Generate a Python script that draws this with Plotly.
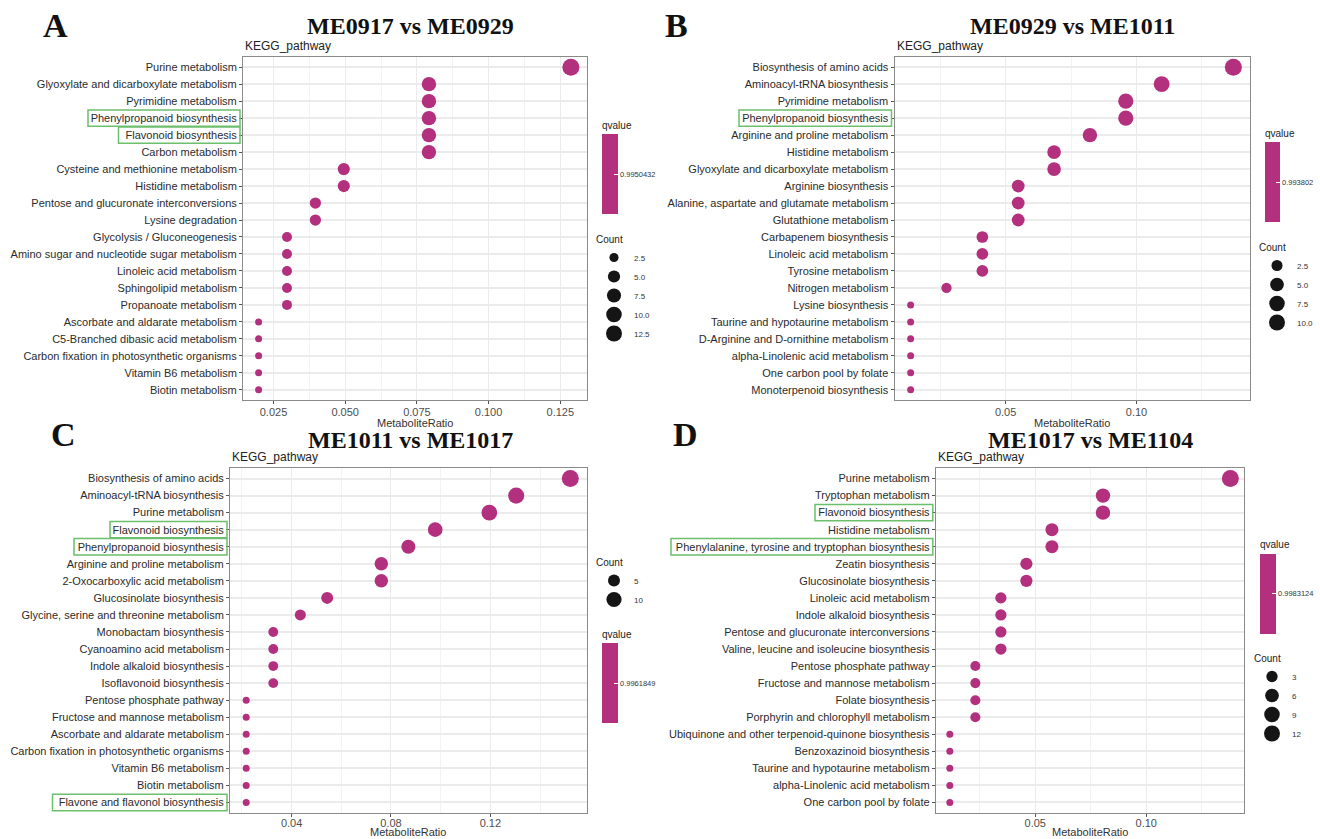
import math
import plotly.graph_objects as go

# ---------------- data ----------------
a_title = "ME0917 vs ME0929"
a_pathways = ["Purine metabolism", "Glyoxylate and dicarboxylate metabolism", "Pyrimidine metabolism",
              "Phenylpropanoid biosynthesis", "Flavonoid biosynthesis", "Carbon metabolism",
              "Cysteine and methionine metabolism", "Histidine metabolism",
              "Pentose and glucuronate interconversions", "Lysine degradation",
              "Glycolysis / Gluconeogenesis", "Amino sugar and nucleotide sugar metabolism",
              "Linoleic acid metabolism", "Sphingolipid metabolism", "Propanoate metabolism",
              "Ascorbate and aldarate metabolism", "C5-Branched dibasic acid metabolism",
              "Carbon fixation in photosynthetic organisms", "Vitamin B6 metabolism", "Biotin metabolism"]
a_ratio = [0.1287, 0.0792, 0.0792, 0.0792, 0.0792, 0.0792, 0.0495, 0.0495, 0.0396, 0.0396,
           0.0297, 0.0297, 0.0297, 0.0297, 0.0297, 0.0198, 0.0198, 0.0198, 0.0198, 0.0198]
a_count = [13, 8, 8, 8, 8, 8, 5, 5, 4, 4, 3, 3, 3, 3, 3, 2, 2, 2, 2, 2]
a_qvalue = 0.9950432
a_count_breaks = [2.5, 5.0, 7.5, 10.0, 12.5]
a_count_labels = ["2.5", "5.0", "7.5", "10.0", "12.5"]
a_highlight = ["Phenylpropanoid biosynthesis", "Flavonoid biosynthesis"]

b_title = "ME0929 vs ME1011"
b_pathways = ["Biosynthesis of amino acids", "Aminoacyl-tRNA biosynthesis", "Pyrimidine metabolism",
              "Phenylpropanoid biosynthesis", "Arginine and proline metabolism", "Histidine metabolism",
              "Glyoxylate and dicarboxylate metabolism", "Arginine biosynthesis",
              "Alanine, aspartate and glutamate metabolism", "Glutathione metabolism",
              "Carbapenem biosynthesis", "Linoleic acid metabolism", "Tyrosine metabolism",
              "Nitrogen metabolism", "Lysine biosynthesis", "Taurine and hypotaurine metabolism",
              "D-Arginine and D-ornithine metabolism", "alpha-Linolenic acid metabolism",
              "One carbon pool by folate", "Monoterpenoid biosynthesis"]
b_ratio = [0.1370, 0.1096, 0.0959, 0.0959, 0.0822, 0.0685, 0.0685, 0.0548, 0.0548, 0.0548,
           0.0411, 0.0411, 0.0411, 0.0274, 0.0137, 0.0137, 0.0137, 0.0137, 0.0137, 0.0137]
b_count = [10, 8, 7, 7, 6, 5, 5, 4, 4, 4, 3, 3, 3, 2, 1, 1, 1, 1, 1, 1]
b_qvalue = 0.993802
b_count_breaks = [2.5, 5.0, 7.5, 10.0]
b_count_labels = ["2.5", "5.0", "7.5", "10.0"]
b_highlight = ["Phenylpropanoid biosynthesis"]

c_title = "ME1011 vs ME1017"
c_pathways = ["Biosynthesis of amino acids", "Aminoacyl-tRNA biosynthesis", "Purine metabolism",
              "Flavonoid biosynthesis", "Phenylpropanoid biosynthesis", "Arginine and proline metabolism",
              "2-Oxocarboxylic acid metabolism", "Glucosinolate biosynthesis",
              "Glycine, serine and threonine metabolism", "Monobactam biosynthesis",
              "Cyanoamino acid metabolism", "Indole alkaloid biosynthesis", "Isoflavonoid biosynthesis",
              "Pentose phosphate pathway", "Fructose and mannose metabolism",
              "Ascorbate and aldarate metabolism", "Carbon fixation in photosynthetic organisms",
              "Vitamin B6 metabolism", "Biotin metabolism", "Flavone and flavonol biosynthesis"]
c_ratio = [0.1522, 0.1304, 0.1196, 0.0978, 0.0870, 0.0761, 0.0761, 0.0543, 0.0435, 0.0326,
           0.0326, 0.0326, 0.0326, 0.0217, 0.0217, 0.0217, 0.0217, 0.0217, 0.0217, 0.0217]
c_count = [14, 12, 11, 9, 8, 7, 7, 5, 4, 3, 3, 3, 3, 2, 2, 2, 2, 2, 2, 2]
c_qvalue = 0.9961849
c_count_breaks = [5, 10]
c_count_labels = ["5", "10"]
c_highlight = ["Flavonoid biosynthesis", "Phenylpropanoid biosynthesis", "Flavone and flavonol biosynthesis"]

d_title = "ME1017 vs ME1104"
d_pathways = ["Purine metabolism", "Tryptophan metabolism", "Flavonoid biosynthesis", "Histidine metabolism",
              "Phenylalanine, tyrosine and tryptophan biosynthesis", "Zeatin biosynthesis",
              "Glucosinolate biosynthesis", "Linoleic acid metabolism", "Indole alkaloid biosynthesis",
              "Pentose and glucuronate interconversions", "Valine, leucine and isoleucine biosynthesis",
              "Pentose phosphate pathway", "Fructose and mannose metabolism", "Folate biosynthesis",
              "Porphyrin and chlorophyll metabolism", "Ubiquinone and other terpenoid-quinone biosynthesis",
              "Benzoxazinoid biosynthesis", "Taurine and hypotaurine metabolism",
              "alpha-Linolenic acid metabolism", "One carbon pool by folate"]
d_ratio = [0.1379, 0.0805, 0.0805, 0.0575, 0.0575, 0.0460, 0.0460, 0.0345, 0.0345, 0.0345,
           0.0345, 0.0230, 0.0230, 0.0230, 0.0230, 0.0115, 0.0115, 0.0115, 0.0115, 0.0115]
d_count = [12, 7, 7, 5, 5, 4, 4, 3, 3, 3, 3, 2, 2, 2, 2, 1, 1, 1, 1, 1]
d_qvalue = 0.9983124
d_count_breaks = [3, 6, 9, 12]
d_count_labels = ["3", "6", "9", "12"]
d_highlight = ["Flavonoid biosynthesis", "Phenylalanine, tyrosine and tryptophan biosynthesis"]

# ---------------- style / layout ----------------
W, H = 1320, 839
DOT = "#B3307F"
GREEN = "#6CBF6C"
SANS = "Liberation Sans, Arial, sans-serif"
SERIF = "Liberation Serif, Times New Roman, serif"


def fx(px):
    return px / W


def fy(py):
    return 1 - py / H


def dot_size(c, cmin, cmax):
    return 7 + 10 * math.sqrt(max(c - cmin, 0) / (cmax - cmin))


panels = [
    dict(key="A", title=a_title, paths=a_pathways, ratio=a_ratio, count=a_count, q=a_qvalue,
         breaks=a_count_breaks, blabels=a_count_labels, hl=a_highlight,
         xdom=(243, 586.5), ydom=(57, 400), dtick=0.025, fmt=".3f", tls=-1,
         cb=(602, 166, 16), leg=(594, 230), letter=(55, 26), tcent=(410, 26), xt=(423, "middle"),
         hlx={"Phenylpropanoid biosynthesis": 88, "Flavonoid biosynthesis": 118.5}),
    dict(key="B", title=b_title, paths=b_pathways, ratio=b_ratio, count=b_count, q=b_qvalue,
         breaks=b_count_breaks, blabels=b_count_labels, hl=b_highlight,
         xdom=(894.5, 1249.5), ydom=(57, 400), dtick=0.05, fmt=".2f", tls=-1,
         cb=(1265, 174.5, 15), leg=(1257, 238), letter=(676, 26), tcent=(1072, 26), xt=(423, "middle"),
         hlx={"Phenylpropanoid biosynthesis": 739}),
    dict(key="C", title=c_title, paths=c_pathways, ratio=c_ratio, count=c_count, q=c_qvalue,
         breaks=c_count_breaks, blabels=c_count_labels, hl=c_highlight,
         xdom=(230, 586.5), ydom=(468.3, 812.7), dtick=0.04, fmt=".2f", tls=-3,
         cb=(602, 675, 16), leg=(594, 553), letter=(63, 434), tcent=(410, 440), xt=(839, "bottom"),
         hlx={"Flavonoid biosynthesis": 110, "Phenylpropanoid biosynthesis": 74,
              "Flavone and flavonol biosynthesis": 52.5}),
    dict(key="D", title=d_title, paths=d_pathways, ratio=d_ratio, count=d_count, q=d_qvalue,
         breaks=d_count_breaks, blabels=d_count_labels, hl=d_highlight,
         xdom=(935.8, 1244.4), ydom=(468.3, 812.7), dtick=0.05, fmt=".2f", tls=-3,
         cb=(1260, 585.7, 16), leg=(1252, 649), letter=(685, 434), tcent=(1090, 440), xt=(839, "bottom"),
         hlx={"Flavonoid biosynthesis": 815, "Phenylalanine, tyrosine and tryptophan biosynthesis": 671}),
]

fig = go.Figure()
layout = dict(width=W, height=H, margin=dict(l=0, r=0, t=0, b=0, pad=0, autoexpand=False),
              paper_bgcolor="white", plot_bgcolor="white",
              font=dict(family=SANS, color="#333333"), showlegend=True)
annotations = []
shapes = []

for i, p in enumerate(panels):
    n = i + 1
    xa = "x" if n == 1 else f"x{n}"
    ya = "y" if n == 1 else f"y{n}"
    xkey = "xaxis" if n == 1 else f"xaxis{n}"
    ykey = "yaxis" if n == 1 else f"yaxis{n}"
    lkey = "legend" if n == 1 else f"legend{n}"
    cmin, cmax = min(p["count"]), max(p["count"])
    sizes = [dot_size(c, cmin, cmax) for c in p["count"]]
    q = p["q"]

    fig.add_trace(go.Scatter(
        x=p["ratio"], y=p["paths"], mode="markers", xaxis=xa, yaxis=ya,
        showlegend=False,
        marker=dict(size=sizes, sizemode="diameter", color=[q] * len(p["ratio"]),
                    colorscale=[[0, DOT], [1, DOT]], cmin=q - 1e-4, cmax=q + 1e-4,
                    opacity=1, line=dict(width=0),
                    showscale=True,
                    colorbar=dict(x=fx(p["cb"][0]), xanchor="left", xpad=0, ypad=0,
                                  y=fy(p["cb"][1]), yanchor="middle",
                                  lenmode="pixels", len=96, thickness=p["cb"][2],
                                  outlinewidth=0, tickvals=[q], ticktext=[f"{q}"],
                                  ticks="inside", ticklen=4, tickcolor="white",
                                  tickfont=dict(size=7.5, color="#333333"),
                                  title=dict(text="qvalue", side="top",
                                             font=dict(size=10, color="#222222")))),
        customdata=p["count"],
        hovertemplate="%{y}<br>MetaboliteRatio=%{x}<br>Count=%{customdata}<extra></extra>"))

    for b, lab in zip(p["breaks"], p["blabels"]):
        fig.add_trace(go.Scatter(
            x=[None], y=[None], mode="markers", xaxis=xa, yaxis=ya, name=lab,
            legend=lkey, showlegend=True,
            marker=dict(size=dot_size(b, cmin, cmax), color="#151515")))

    lo, hi = min(p["ratio"]), max(p["ratio"])
    pad = (hi - lo) * 0.05
    npath = len(p["paths"])
    layout[xkey] = dict(domain=[fx(p["xdom"][0]), fx(p["xdom"][1])], anchor=ya,
                        range=[lo - pad, hi + pad], dtick=p["dtick"], tick0=0,
                        tickformat=p["fmt"], showgrid=True, gridcolor="#EBEBEB", gridwidth=1.2,
                        minor=dict(dtick=p["dtick"] / 2, tick0=0, showgrid=True,
                                   gridcolor="#F3F3F3", gridwidth=0.8),
                        zeroline=False, showline=True, linecolor="#8A8A8A", linewidth=1,
                        mirror=True, ticks="outside", ticklen=3, tickcolor="#555555",
                        ticklabelstandoff=p["tls"],
                        tickfont=dict(size=11, color="#4D4D4D"))
    layout[ykey] = dict(domain=[fy(p["ydom"][1]), fy(p["ydom"][0])], anchor=xa,
                        type="category", categoryorder="array", categoryarray=p["paths"],
                        range=[npath - 1 + 0.6, -0.6], showgrid=True, gridcolor="#EBEBEB",
                        gridwidth=2, zeroline=False, showline=True, linecolor="#8A8A8A",
                        linewidth=1, mirror=True, ticks="outside", ticklen=3,
                        tickcolor="#555555", tickfont=dict(size=11, color="#2B2B2B"))
    layout[lkey] = dict(x=fx(p["leg"][0]), y=fy(p["leg"][1]), xanchor="left", yanchor="top",
                        title=dict(text="Count", font=dict(size=10, color="#222222")),
                        font=dict(size=8, color="#333333"), bgcolor="rgba(0,0,0,0)",
                        itemsizing="trace", traceorder="normal", itemwidth=30)

    annotations.append(dict(text=p["key"], x=fx(p["letter"][0]), y=fy(p["letter"][1]),
                            xref="paper", yref="paper", showarrow=False,
                            xanchor="center", yanchor="middle",
                            font=dict(family=SERIF, size=34, color="#111111", weight="bold")))
    annotations.append(dict(text=p["title"], x=fx(p["tcent"][0]), y=fy(p["tcent"][1]),
                            xref="paper", yref="paper", showarrow=False,
                            xanchor="center", yanchor="middle",
                            font=dict(family=SERIF, size=24, color="#111111", weight="bold")))
    annotations.append(dict(text="KEGG_pathway", x=fx(p["xdom"][0]), y=fy(p["ydom"][0] - 11),
                            xref="paper", yref="paper", showarrow=False,
                            xanchor="left", yanchor="middle",
                            font=dict(size=12, color="#222222")))
    annotations.append(dict(text="MetaboliteRatio", x=fx((p["xdom"][0] + p["xdom"][1]) / 2),
                            y=fy(p["xt"][0]), xref="paper", yref="paper", showarrow=False,
                            xanchor="center", yanchor=p["xt"][1], borderpad=0,
                            font=dict(size=11, color="#333333")))

    for name in p["hl"]:
        idx = p["paths"].index(name)
        shapes.append(dict(type="rect", xref="paper", yref=ya,
                           x0=fx(p["hlx"][name]), x1=fx(p["xdom"][0] - 3),
                           y0=idx - 0.48, y1=idx + 0.48,
                           line=dict(color=GREEN, width=1.5), fillcolor="rgba(0,0,0,0)"))

layout["annotations"] = annotations
layout["shapes"] = shapes
fig.update_layout(**layout)
fig.write_html("out.html", config={"displayModeBar": False},
               post_script="document.body.style.margin='0px';document.body.style.overflow='hidden';")
